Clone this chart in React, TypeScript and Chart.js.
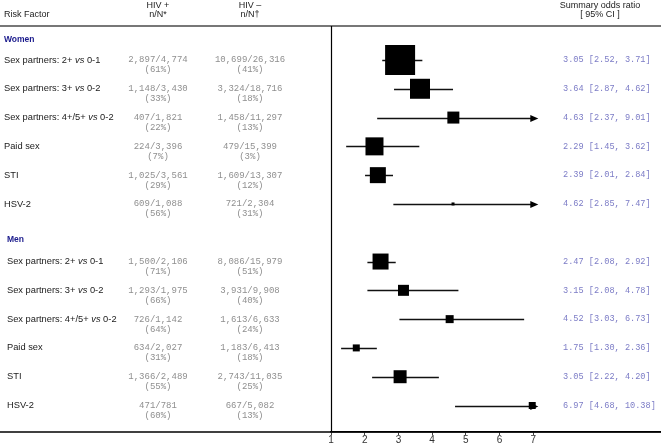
import React, { useEffect, useRef } from 'react';
import { Chart, registerables } from 'chart.js';

Chart.register(...registerables);

// ---------- data ----------
const groupNames = ['Women', 'Men'];
const riskFactors = [
  'Sex partners: 2+ vs 0-1',
  'Sex partners: 3+ vs 0-2',
  'Sex partners: 4+/5+ vs 0-2',
  'Paid sex',
  'STI',
  'HSV-2',
];

const womenHivPos = ['2,897/4,774', '1,148/3,430', '407/1,821', '224/3,396', '1,025/3,561', '609/1,088'];
const womenHivPosPct = ['(61%)', '(33%)', '(22%)', '(7%)', '(29%)', '(56%)'];
const womenHivNeg = ['10,699/26,316', '3,324/18,716', '1,458/11,297', '479/15,399', '1,609/13,307', '721/2,304'];
const womenHivNegPct = ['(41%)', '(18%)', '(13%)', '(3%)', '(12%)', '(31%)'];
const womenOR = [3.05, 3.64, 4.63, 2.29, 2.39, 4.62];
const womenLow = [2.52, 2.87, 2.37, 1.45, 2.01, 2.85];
const womenHigh = [3.71, 4.62, 9.01, 3.62, 2.84, 7.47];
const womenWeight = [30, 20, 12, 18, 16, 3];

const menHivPos = ['1,500/2,106', '1,293/1,975', '726/1,142', '634/2,027', '1,366/2,489', '471/781'];
const menHivPosPct = ['(71%)', '(66%)', '(64%)', '(31%)', '(55%)', '(60%)'];
const menHivNeg = ['8,086/15,979', '3,931/9,908', '1,613/6,633', '1,183/6,413', '2,743/11,035', '667/5,082'];
const menHivNegPct = ['(51%)', '(40%)', '(24%)', '(18%)', '(25%)', '(13%)'];
const menOR = [2.47, 3.15, 4.52, 1.75, 3.05, 6.97];
const menLow = [2.08, 2.08, 3.03, 1.30, 2.22, 4.68];
const menHigh = [2.92, 4.78, 6.73, 2.36, 4.20, 10.38];
const menWeight = [16, 11, 8, 7, 13, 7];

const xTicks = [1, 2, 3, 4, 5, 6, 7];
const headerRiskFactor = 'Risk Factor';
const headerHivPos = ['HIV +', 'n/N*'];
const headerHivNeg = ['HIV \u2013', 'n/N\u2020'];
const headerSummary = ['Summary odds ratio', '[ 95% CI ]'];

// row slots on the vertical axis
const groupHeaderPos = [0.31, 7.25];
const womenPos = [1, 2, 3, 4, 5, 6];
const menPos = [8, 9, 10, 11, 12, 13];

// ---------- layout ----------
const X_MAX = 10.79;
const Y_MIN = -0.18;
const Y_MAX = 13.92;
const ARROW_LIMIT = 7.15;
const SANS = '"Liberation Sans", Arial, sans-serif';
const MONO = '"Liberation Mono", "Courier New", monospace';

type Row = {
  label: string; pos: number; or: number; low: number; high: number; w: number;
  pos1: string; pos2: string; neg1: string; neg2: string; indent: number;
};

const rows: Row[] = [];
riskFactors.forEach((label, i) => {
  rows.push({ label, pos: womenPos[i], or: womenOR[i], low: womenLow[i], high: womenHigh[i], w: womenWeight[i],
    pos1: womenHivPos[i], pos2: womenHivPosPct[i], neg1: womenHivNeg[i], neg2: womenHivNegPct[i], indent: 4 });
});
riskFactors.forEach((label, i) => {
  rows.push({ label, pos: menPos[i], or: menOR[i], low: menLow[i], high: menHigh[i], w: menWeight[i],
    pos1: menHivPos[i], pos2: menHivPosPct[i], neg1: menHivNeg[i], neg2: menHivNegPct[i], indent: 7 });
});

const fmt = (v: number) => v.toFixed(2);

const forestPlugin = {
  id: 'forest',
  beforeDatasetsDraw(chart: any) {
    const { ctx, scales: { x, y } } = chart;
    ctx.save();
    ctx.strokeStyle = '#111';
    ctx.fillStyle = '#000';
    ctx.lineWidth = 1.5;
    rows.forEach((r) => {
      const py = Math.round(y.getPixelForValue(r.pos)) + 0.5;
      const x0 = x.getPixelForValue(r.low);
      const arrow = r.high > ARROW_LIMIT;
      const x1 = x.getPixelForValue(Math.min(r.high, ARROW_LIMIT));
      ctx.beginPath();
      ctx.moveTo(x0, py);
      ctx.lineTo(arrow ? x1 - 6 : x1, py);
      ctx.stroke();
      if (arrow) {
        ctx.beginPath();
        ctx.moveTo(x1, py);
        ctx.lineTo(x1 - 8, py - 3.5);
        ctx.lineTo(x1 - 8, py + 3.5);
        ctx.closePath();
        ctx.fill();
      }
    });
    ctx.restore();
  },
  afterDraw(chart: any) {
    const { ctx, scales: { x, y }, chartArea } = chart;
    const W = chart.width;
    ctx.save();
    // top rule
    ctx.strokeStyle = '#777';
    ctx.lineWidth = 2;
    ctx.beginPath();
    ctx.moveTo(0, chartArea.top);
    ctx.lineTo(W, chartArea.top);
    ctx.stroke();
    // bottom rule across the table
    ctx.strokeStyle = '#000';
    ctx.lineWidth = 1.5;
    ctx.beginPath();
    ctx.moveTo(0, chartArea.bottom);
    ctx.lineTo(W, chartArea.bottom);
    ctx.stroke();
    // vertical reference line at OR = 1
    const xRef = Math.round(x.getPixelForValue(1)) + 0.5;
    ctx.lineWidth = 1.2;
    ctx.beginPath();
    ctx.moveTo(xRef, chartArea.top);
    ctx.lineTo(xRef, chartArea.bottom);
    ctx.stroke();

    // headers
    ctx.textBaseline = 'middle';
    ctx.fillStyle = '#222';
    ctx.font = `9px ${SANS}`;
    ctx.textAlign = 'left';
    ctx.fillText(headerRiskFactor, 4, 15);
    ctx.textAlign = 'center';
    ctx.fillText(headerHivPos[0], 158, 6);
    ctx.fillText(headerHivPos[1], 158, 15);
    ctx.fillText(headerHivNeg[0], 250, 6);
    ctx.fillText(headerHivNeg[1], 250, 15);
    ctx.fillText(headerSummary[0], 600, 6);
    ctx.fillText(headerSummary[1], 600, 15);

    // group headers
    ctx.textAlign = 'left';
    ctx.fillStyle = '#1a1a8c';
    ctx.font = `bold 8.5px ${SANS}`;
    groupNames.forEach((g, i) => {
      ctx.fillText(g, i === 0 ? 4 : 7, y.getPixelForValue(groupHeaderPos[i]));
    });

    rows.forEach((r) => {
      const py = y.getPixelForValue(r.pos);
      // label with italic "vs"
      ctx.fillStyle = '#1a1a1a';
      ctx.textAlign = 'left';
      const parts = r.label.split(' vs ');
      let cx = r.indent;
      ctx.font = `9.3px ${SANS}`;
      if (parts.length === 2) {
        const a = parts[0] + ' ';
        ctx.fillText(a, cx, py);
        cx += ctx.measureText(a).width;
        ctx.font = `italic 9.3px ${SANS}`;
        ctx.fillText('vs', cx, py);
        cx += ctx.measureText('vs').width;
        ctx.font = `9.3px ${SANS}`;
        ctx.fillText(' ' + parts[1], cx, py);
      } else {
        ctx.fillText(r.label, cx, py);
      }
      // counts
      ctx.fillStyle = '#8f8f8f';
      ctx.font = `9px ${MONO}`;
      ctx.textAlign = 'center';
      ctx.fillText(r.pos1, 158, py);
      ctx.fillText(r.pos2, 158, py + 10);
      ctx.fillText(r.neg1, 250, py);
      ctx.fillText(r.neg2, 250, py + 10);
      // summary OR text
      ctx.fillStyle = '#7c7cc6';
      ctx.font = `8.6px ${MONO}`;
      ctx.textAlign = 'left';
      ctx.fillText(`${fmt(r.or)} [${fmt(r.low)}, ${fmt(r.high)}]`, 563, py);
    });
    ctx.restore();
  },
};

export default function App() {
  const ref = useRef<HTMLCanvasElement>(null);
  useEffect(() => {
    document.body.style.margin = '0';
    const canvas = ref.current!;
    const chart = new Chart(canvas, {
      type: 'scatter',
      data: {
        datasets: [
          {
            data: rows.map((r) => ({ x: r.or, y: r.pos })),
            pointStyle: 'rect',
            pointRadius: rows.map((r) => r.w / Math.SQRT2),
            pointHoverRadius: rows.map((r) => r.w / Math.SQRT2),
            backgroundColor: '#000',
            borderWidth: 0,
          },
        ],
      },
      options: {
        responsive: false,
        animation: false,
        devicePixelRatio: 1,
        layout: { autoPadding: false, padding: { left: 331, top: 26, right: 0, bottom: 0 } },
        plugins: { legend: { display: false }, tooltip: { enabled: false } },
        scales: {
          x: {
            type: 'linear',
            min: 1,
            max: X_MAX,
            afterBuildTicks: (scale: any) => {
              scale.ticks = xTicks.map((v) => ({ value: v }));
            },
            ticks: {
              autoSkip: false,
              maxRotation: 0,
              padding: 0,
              color: '#333',
              font: { family: SANS, size: 10, lineHeight: 1 },
              callback: (v: any) => String(v),
            },
            grid: { display: true, drawOnChartArea: false, drawTicks: true, tickLength: 3, color: '#444' },
            border: { display: true, color: '#000', width: 1.5 },
          },
          y: {
            type: 'linear',
            display: false,
            reverse: true,
            min: Y_MIN,
            max: Y_MAX,
          },
        },
      },
      plugins: [forestPlugin],
    });
    return () => chart.destroy();
  }, []);
  return (
    <div style={{ width: 661, height: 445, position: 'relative' }}>
      <canvas ref={ref} width={661} height={445} style={{ display: 'block', width: 661, height: 445 }} />
    </div>
  );
}
